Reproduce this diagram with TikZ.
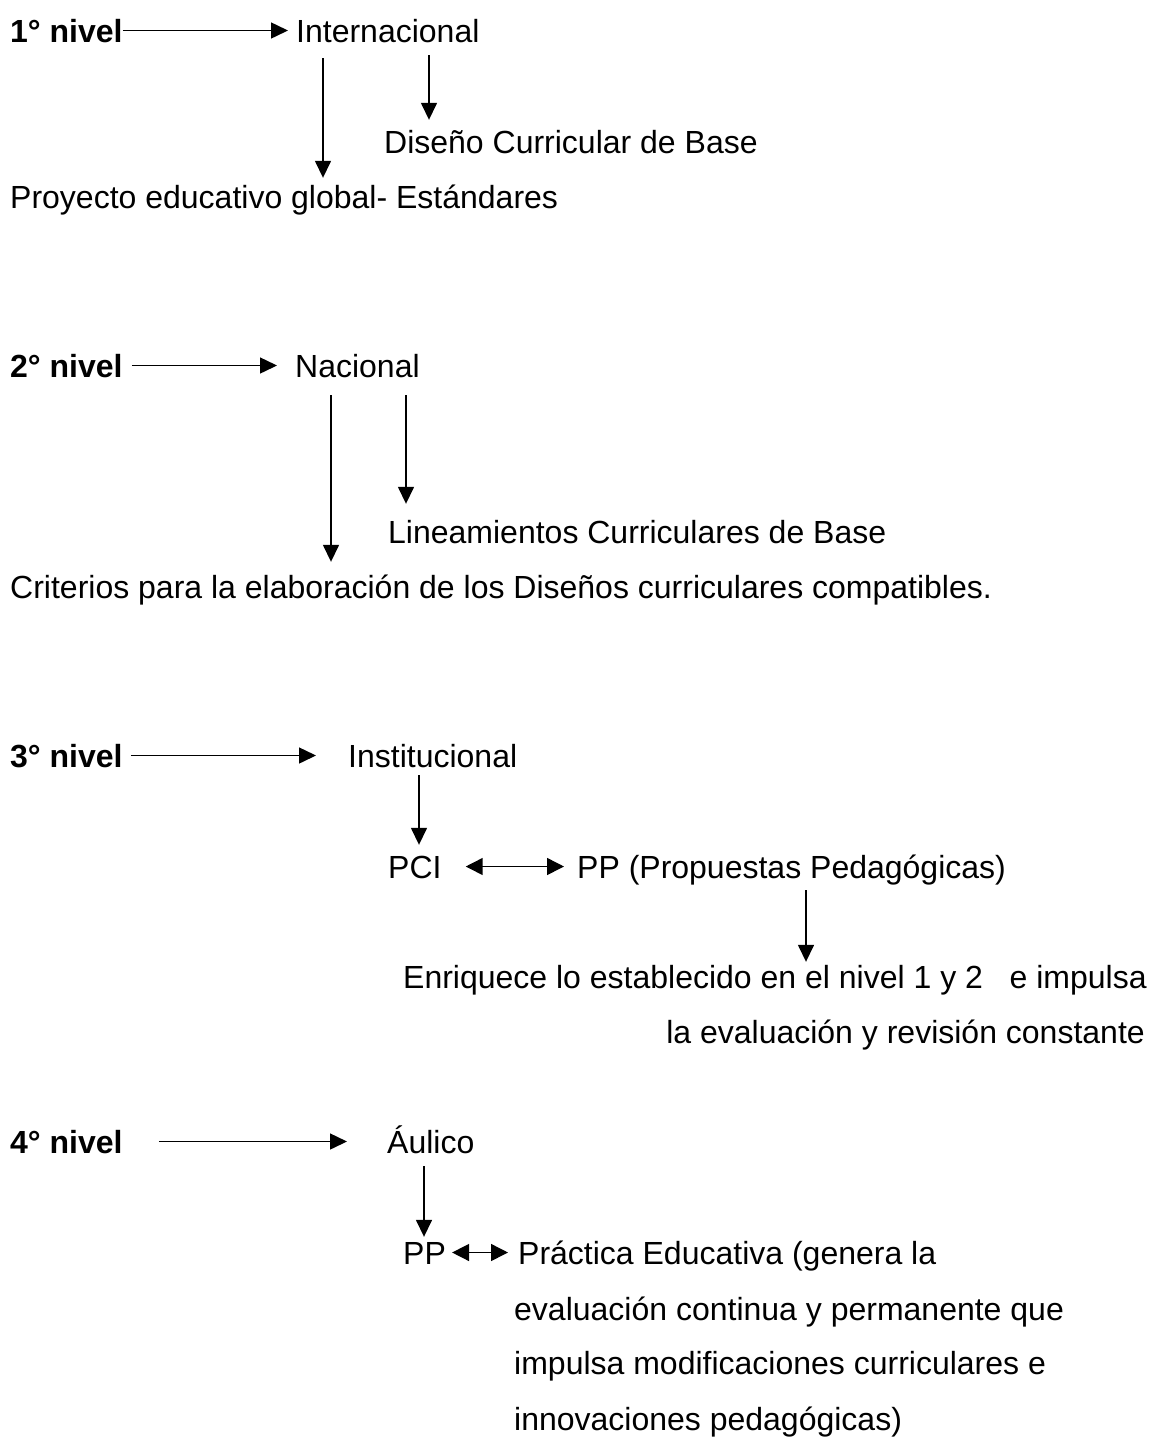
\documentclass[tikz,border=0pt]{standalone}
\usepackage{fontspec}
\usepackage{tikz}
\usetikzlibrary{arrows.meta}
\setmainfont{Liberation Sans}

\begin{document}
\begin{tikzpicture}[x=1pt, y=-1pt,
            txt/.style={inner sep=0pt, anchor=base west, text height=23pt, text depth=0pt, font=\fontsize{32}{38}\selectfont},
            lvl/.style={txt, font=\fontsize{32}{38}\selectfont\bfseries},
            arrow/.style={-{Triangle[length=17pt, width=16pt]}, line width=1.5pt},
            darrow/.style={{Triangle[length=17pt, width=17pt]}-{Triangle[length=17pt, width=17pt]}, line width=1.5pt}
        ]
            \useasboundingbox (0,0) rectangle (1150,1441);

            % 1er nivel
            \node[lvl] (lvlone) at (10,42) {1° nivel};
            \node[txt] (intl) at (296,42) {Internacional};
            \node[txt] (dcb) at (384,153) {Diseño Curricular de Base};
            \node[txt] (peg) at (10,208) {Proyecto educativo global- Estándares};

            \draw[arrow, shorten >=8pt] (lvlone.east) -- (intl.west);
            \draw[arrow, shorten <=16pt, shorten >=7pt] ([xshift=27pt]intl.south west) coordinate (a1) -- (a1 |- peg.north);
            \draw[arrow, shorten <=13pt, shorten >=10pt] ([xshift=133pt]intl.south west) coordinate (a2) -- (a2 |- dcb.north);

            % 2do nivel
            \node[lvl] (lvltwo) at (10,377) {2° nivel};
            \node[txt] (nac) at (295,377) {Nacional};
            \node[txt] (lcb) at (388,543) {Lineamientos Curriculares de Base};
            \node[txt] (crit) at (10,598) {Criterios para la elaboración de los Diseños curriculares compatibles.};

            \draw[arrow, shorten <=9pt, shorten >=18pt] (lvltwo.east) -- (nac.west);
            \draw[arrow, shorten <=18pt, shorten >=13pt] ([xshift=36pt]nac.south west) coordinate (b1) -- (b1 |- crit.north);
            \draw[arrow, shorten <=18pt, shorten >=16pt] ([xshift=111pt]nac.south west) coordinate (b2) -- (b2 |- lcb.north);

            % 3er nivel
            \node[lvl] (lvlthree) at (10,767) {3° nivel};
            \node[txt] (inst) at (348,767) {Institucional};
            \node[txt] (pci) at (388,878) {PCI};
            \node[txt] (pp) at (577,878) {PP (Propuestas Pedagógicas)};
            \node[txt] (enr) at (403,988) {Enriquece lo establecido en el nivel 1 y 2\ \ \ e impulsa};
            \node[txt, anchor=base east] (enrb) at (1145,1043) {la evaluación y revisión constante};

            \draw[arrow, shorten <=8pt, shorten >=32pt] (lvlthree.east) -- (inst.west);
            \draw[arrow, shorten <=8pt, shorten >=10pt] ([xshift=71pt]inst.south west) coordinate (c1) -- (c1 |- pci.north);
            \draw[darrow, shorten <=24pt, shorten >=13pt] (pci.east) -- (pp.west);
            \draw[arrow, shorten <=12pt, shorten >=3pt] ([xshift=229pt]pp.south west) coordinate (c2) -- (c2 |- enr.north);

            % 4to nivel
            \node[lvl] (lvlfour) at (10,1153) {4° nivel};
            \node[txt] (aul) at (387,1153) {Áulico};
            \node[txt] (ppa) at (403,1264) {PP};
            \node[txt] (prac) at (518,1264) {Práctica Educativa (genera la};
            \node[txt] (pracb) at (514,1320) {evaluación continua y permanente que};
            \node[txt] (pracc) at (514,1374) {impulsa modificaciones curriculares e};
            \node[txt] (pracd) at (514,1430) {innovaciones pedagógicas)};

            \draw[arrow, shorten <=36pt, shorten >=40pt] (lvlfour.east) -- (aul.west);
            \draw[arrow, shorten <=13pt, shorten >=4pt] ([xshift=37pt]aul.south west) coordinate (d1) -- (d1 |- ppa.north);
            \draw[darrow, shorten <=6pt, shorten >=10pt] (ppa.east) -- (prac.west);

        \end{tikzpicture}
\end{document}
